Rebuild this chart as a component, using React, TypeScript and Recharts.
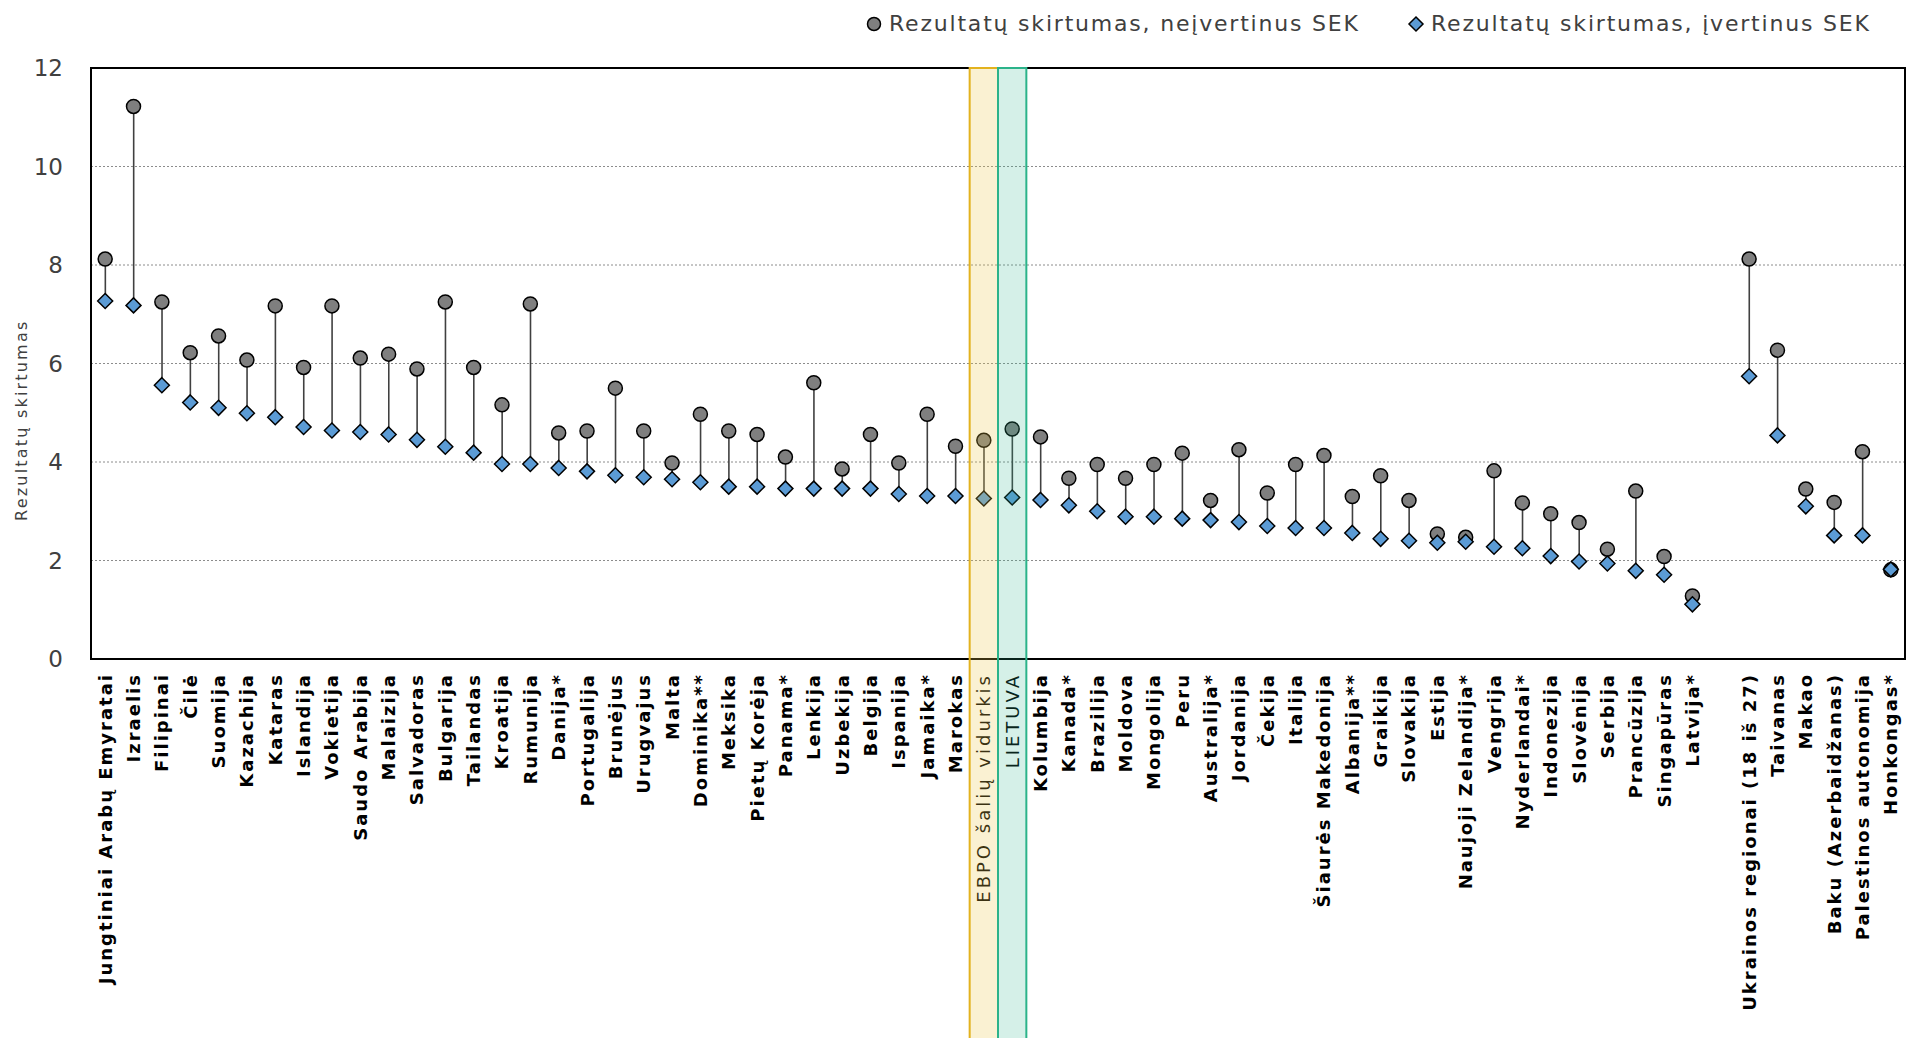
import {
  ComposedChart,
  Bar,
  Line,
  XAxis,
  YAxis,
  CartesianGrid,
  ReferenceArea,
} from "recharts";

const W = 1909;
const H = 1038;
const GRAY = "#7F7F7F";
const BLUE = "#5B9BD5";
const TEXT = "#404040";
const FONT = "'DejaVu Sans', sans-serif";

const OECD = "EBPO šalių vidurkis";
const LT = "LIETUVA";

const categories = [
  "Jungtiniai Arabų Emyratai", "Izraelis", "Filipinai", "Čilė", "Suomija", "Kazachija",
  "Kataras", "Islandija", "Vokietija", "Saudo Arabija", "Malaizija", "Salvadoras",
  "Bulgarija", "Tailandas", "Kroatija", "Rumunija", "Danija*", "Portugalija", "Brunėjus",
  "Urugvajus", "Malta", "Dominika**", "Meksika", "Pietų Korėja", "Panama*", "Lenkija",
  "Uzbekija", "Belgija", "Ispanija", "Jamaika*", "Marokas", OECD, LT, "Kolumbija",
  "Kanada*", "Brazilija", "Moldova", "Mongolija", "Peru", "Australija*", "Jordanija",
  "Čekija", "Italija", "Šiaurės Makedonija", "Albanija**", "Graikija", "Slovakija",
  "Estija", "Naujoji Zelandija*", "Vengrija", "Nyderlandai*", "Indonezija", "Slovėnija",
  "Serbija", "Prancūzija", "Singapūras", "Latvija*", "", "Ukrainos regionai (18 iš 27)",
  "Taivanas", "Makao", "Baku (Azerbaidžanas)", "Palestinos autonomija", "Honkongas*",
];

// Rezultatų skirtumas, neįvertinus SEK (circles)
const unadjusted = [
  8.12, 11.22, 7.25, 6.22, 6.56, 6.07, 7.17, 5.92, 7.17, 6.11, 6.19, 5.89,
  7.25, 5.92, 5.16, 7.21, 4.59, 4.63, 5.5, 4.63, 3.98, 4.97, 4.63, 4.56, 4.1, 5.61,
  3.86, 4.56, 3.98, 4.97, 4.32, 4.44, 4.67, 4.51, 3.67, 3.95, 3.67, 3.95, 4.18, 3.22,
  4.25, 3.37, 3.95, 4.13, 3.3, 3.72, 3.22, 2.54, 2.47, 3.82, 3.17, 2.95, 2.77, 2.23,
  3.41, 2.08, 1.28, null, 8.12, 6.27, 3.45, 3.18, 4.21, 1.81,
];

// Rezultatų skirtumas, įvertinus SEK (diamonds)
const adjusted = [
  7.27, 7.18, 5.56, 5.21, 5.1, 4.99, 4.91, 4.71, 4.64, 4.61, 4.56, 4.45,
  4.31, 4.19, 3.96, 3.96, 3.88, 3.81, 3.73, 3.69, 3.65, 3.59, 3.5, 3.5, 3.46, 3.46,
  3.46, 3.46, 3.35, 3.31, 3.31, 3.26, 3.28, 3.23, 3.12, 3.0, 2.89, 2.89, 2.85, 2.82,
  2.78, 2.7, 2.66, 2.66, 2.56, 2.44, 2.4, 2.36, 2.38, 2.28, 2.25, 2.09, 1.98, 1.94,
  1.79, 1.71, 1.11, null, 5.74, 4.54, 3.1, 2.51, 2.51, 1.82,
];

const yTicks = [0, 2, 4, 6, 8, 10, 12];

const legendLabels = [
  "Rezultatų skirtumas, neįvertinus SEK",
  "Rezultatų skirtumas, įvertinus SEK",
];

const data = categories.map((name, i) => ({
  name,
  nosek: unadjusted[i],
  sek: adjusted[i],
  stem: unadjusted[i] == null ? null : [adjusted[i], unadjusted[i]],
}));

function XTick(props: any) {
  const { x, y, payload } = props;
  const special = payload.value === OECD || payload.value === LT;
  return (
    <g transform={`translate(${x},${y})`}>
      <text
        x={0}
        y={0}
        dy="0.36em"
        transform="rotate(-90)"
        textAnchor="end"
        fontFamily={FONT}
        fontSize={18}
        fontWeight={special ? 400 : 700}
        letterSpacing={special ? 3 : 2}
        fill="#000"
      >
        {payload.value}
      </text>
    </g>
  );
}

function Stem(props: any) {
  const { x, y, width, height } = props;
  if (x == null || y == null) return <g />;
  const cx = x + width / 2;
  const top = Math.min(y, y + height);
  const bot = Math.max(y, y + height);
  return <line x1={cx} x2={cx} y1={top} y2={bot} stroke={TEXT} strokeWidth={1.6} />;
}

function CircleDot(props: any) {
  const { cx, cy, index } = props;
  if (cx == null || cy == null || props.value == null) return <g key={`c${index}`} />;
  return <circle key={`c${index}`} cx={cx} cy={cy} r={7} fill={GRAY} stroke="#000" strokeWidth={1.5} />;
}

function DiamondDot(props: any) {
  const { cx, cy, index } = props;
  if (cx == null || cy == null || props.value == null) return <g key={`d${index}`} />;
  const s = 7.5;
  return (
    <path
      key={`d${index}`}
      d={`M${cx},${cy - s}L${cx + s},${cy}L${cx},${cy + s}L${cx - s},${cy}Z`}
      fill={BLUE}
      stroke="#000"
      strokeWidth={1.5}
    />
  );
}

function YTitle(props: any) {
  const { viewBox } = props;
  const x = viewBox.x + 22;
  const y = viewBox.y + viewBox.height * 0.596;
  return (
    <text
      x={x}
      y={y}
      transform={`rotate(-90, ${x}, ${y})`}
      textAnchor="middle"
      dominantBaseline="central"
      fontFamily={FONT}
      fontSize={16}
      letterSpacing={2.2}
      fill={TEXT}
    >
      Rezultatų skirtumas
    </text>
  );
}

function LegendItem({ i, left }: { i: number; left: number }) {
  return (
    <div
      style={{
        position: "absolute",
        left,
        top: 10,
        display: "flex",
        alignItems: "center",
        gap: 6,
        fontFamily: FONT,
        fontSize: 22,
        letterSpacing: 1.8,
        color: TEXT,
        whiteSpace: "nowrap",
        lineHeight: "28px",
      }}
    >
      <svg width={18} height={18}>
        {i === 0 ? (
          <circle cx={9} cy={9} r={6.5} fill={GRAY} stroke="#000" strokeWidth={1.5} />
        ) : (
          <path d="M9,2L16,9L9,16L2,9Z" fill={BLUE} stroke="#000" strokeWidth={1.5} />
        )}
      </svg>
      <span>{legendLabels[i]}</span>
    </div>
  );
}

export default function App() {
  return (
    <div style={{ position: "absolute", left: 0, top: 0, width: W, height: H, background: "#fff" }}>
      <ComposedChart
        width={W}
        height={H}
        data={data}
        margin={{ top: 68, right: 4, bottom: 0, left: 0 }}
      >
        <CartesianGrid vertical={false} stroke="#8C8C8C" strokeDasharray="2 2" />
        <XAxis
          dataKey="name"
          interval={0}
          height={379}
          tick={<XTick />}
          tickLine={false}
          axisLine={false}
          tickMargin={8}
        />
        <YAxis
          domain={[0, 12]}
          ticks={yTicks}
          width={91}
          tickLine={false}
          axisLine={false}
          tickMargin={22}
          tick={{ fill: TEXT, fontSize: 23, fontFamily: FONT }}
          label={{ content: YTitle }}
        />
        <ReferenceArea
          x1={categories[0]}
          x2={categories[categories.length - 1]}
          y1={0}
          y2={12}
          fill="none"
          stroke="#000"
          strokeWidth={2}
        />
        <Bar dataKey="stem" shape={<Stem />} isAnimationActive={false} />
        <Line
          dataKey="nosek"
          stroke="none"
          dot={CircleDot}
          activeDot={false}
          isAnimationActive={false}
        />
        <Line
          dataKey="sek"
          stroke="none"
          dot={DiamondDot}
          activeDot={false}
          isAnimationActive={false}
        />
        <ReferenceArea
          x1={OECD}
          x2={OECD}
          y1={-8}
          y2={12}
          ifOverflow="visible"
          fill="#EBC94B"
          fillOpacity={0.25}
          stroke="#E3B21E"
          strokeWidth={2}
          zIndex={3000}
        />
        <ReferenceArea
          x1={LT}
          x2={LT}
          y1={-8}
          y2={12}
          ifOverflow="visible"
          fill="#2BB38A"
          fillOpacity={0.2}
          stroke="#2BB38A"
          strokeWidth={2}
          zIndex={3000}
        />
      </ComposedChart>
      <LegendItem i={0} left={865} />
      <LegendItem i={1} left={1407} />
    </div>
  );
}
